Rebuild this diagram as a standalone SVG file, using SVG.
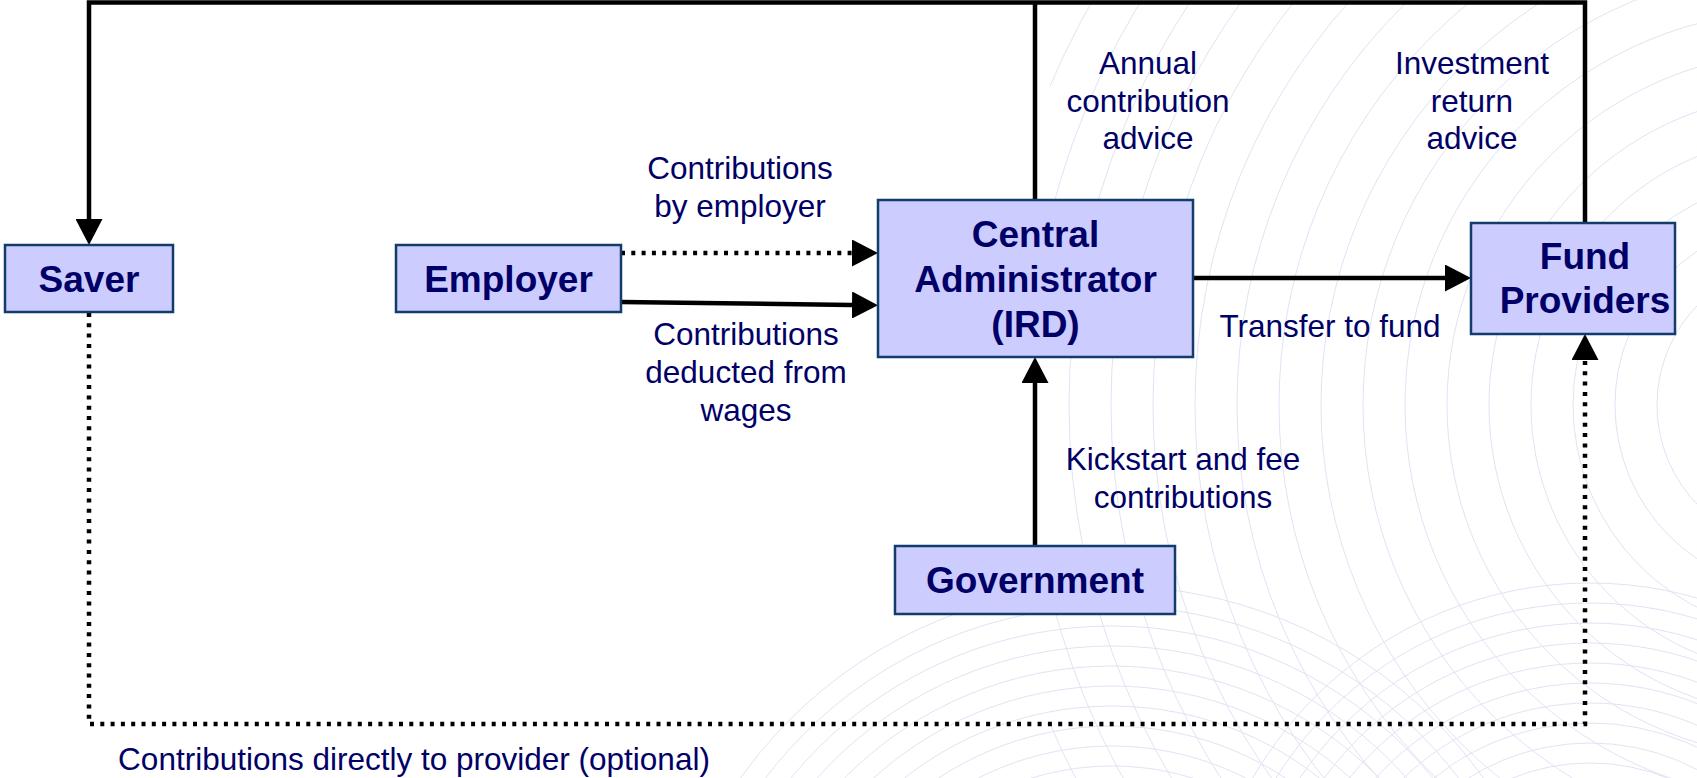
<svg xmlns="http://www.w3.org/2000/svg" width="1697" height="778" viewBox="0 0 1697 778">
<style>
.bg{fill:none;stroke:#e0e3f4;stroke-width:1}
.box{fill:#ccccff;stroke:#123c6b;stroke-width:2.5}
.nt{font-family:"Liberation Sans",Arial,sans-serif;font-weight:bold;font-size:37px;fill:#000066;text-anchor:middle}
.lb{font-family:"Liberation Sans",Arial,sans-serif;font-size:31.5px;fill:#000066;text-anchor:middle}
.ln{fill:none;stroke:#000;stroke-width:4.5}
.dt{fill:none;stroke:#000;stroke-width:4.5;stroke-dasharray:4 6.3}
</style>
<defs>
<marker id="ah" viewBox="0 0 26 27" refX="0" refY="13.5" markerWidth="26" markerHeight="27" markerUnits="userSpaceOnUse" orient="auto">
<path d="M0,0 L26,13.5 L0,27 Z" fill="#000"/>
</marker>
<clipPath id="clipA"><rect x="1050" y="0" width="647" height="778"/></clipPath>
</defs>
<rect x="0" y="0" width="1697" height="778" fill="#fff"/>
<g id="background">
<g clip-path="url(#clipA)">
<circle class="bg" cx="1800" cy="405" r="815"/>
<circle class="bg" cx="1800" cy="405" r="773"/>
<circle class="bg" cx="1800" cy="405" r="731"/>
<circle class="bg" cx="1800" cy="405" r="689"/>
<circle class="bg" cx="1800" cy="405" r="647"/>
<circle class="bg" cx="1800" cy="405" r="605"/>
<circle class="bg" cx="1800" cy="405" r="563"/>
<circle class="bg" cx="1800" cy="405" r="521"/>
<circle class="bg" cx="1800" cy="405" r="479"/>
<circle class="bg" cx="1800" cy="405" r="437"/>
<circle class="bg" cx="1800" cy="405" r="395"/>
<circle class="bg" cx="1800" cy="405" r="353"/>
<circle class="bg" cx="1800" cy="405" r="311"/>
<circle class="bg" cx="1800" cy="405" r="269"/>
<circle class="bg" cx="1800" cy="405" r="227"/>
<circle class="bg" cx="1800" cy="405" r="185"/>
<circle class="bg" cx="1800" cy="405" r="143"/>
</g>
<circle class="bg" cx="1112" cy="1041" r="455"/>
<circle class="bg" cx="1112" cy="1041" r="435"/>
<circle class="bg" cx="1112" cy="1041" r="415"/>
<circle class="bg" cx="1112" cy="1041" r="395"/>
<circle class="bg" cx="1112" cy="1041" r="375"/>
<circle class="bg" cx="1112" cy="1041" r="355"/>
<circle class="bg" cx="1112" cy="1041" r="335"/>
<circle class="bg" cx="1112" cy="1041" r="315"/>
<circle class="bg" cx="1112" cy="1041" r="295"/>
<circle class="bg" cx="1112" cy="1041" r="275"/>
<circle class="bg" cx="1590" cy="972" r="389"/>
<circle class="bg" cx="1590" cy="972" r="369"/>
<circle class="bg" cx="1590" cy="972" r="349"/>
<circle class="bg" cx="1590" cy="972" r="329"/>
<circle class="bg" cx="1590" cy="972" r="309"/>
<circle class="bg" cx="1590" cy="972" r="289"/>
<circle class="bg" cx="1590" cy="972" r="269"/>
<circle class="bg" cx="1590" cy="972" r="249"/>
<circle class="bg" cx="1590" cy="972" r="229"/>
<circle class="bg" cx="1590" cy="972" r="209"/>
</g>
<g id="connectors">
<path class="ln" d="M1585,223 V2.5 H89 V219" marker-end="url(#ah)"/>
<path class="ln" d="M1035,200 V2.5"/>
<path class="dt" d="M621,253 H852" marker-end="url(#ah)"/>
<path class="ln" d="M621,302 L852,305" marker-end="url(#ah)"/>
<path class="ln" d="M1193,278 H1445" marker-end="url(#ah)"/>
<path class="ln" d="M1035,546 V383" marker-end="url(#ah)"/>
<path class="dt" d="M89,313 V724 H1585 V360" marker-end="url(#ah)"/>
</g>
<g id="labels">
<text class="lb" x="740" y="179">Contributions</text>
<text class="lb" x="740" y="216.5">by employer</text>
<text class="lb" x="746" y="345">Contributions</text>
<text class="lb" x="746" y="383">deducted from</text>
<text class="lb" x="746" y="421">wages</text>
<text class="lb" x="1148" y="74">Annual</text>
<text class="lb" x="1148" y="111.5">contribution</text>
<text class="lb" x="1148" y="149">advice</text>
<text class="lb" x="1472" y="74">Investment</text>
<text class="lb" x="1472" y="111.5">return</text>
<text class="lb" x="1472" y="149">advice</text>
<text class="lb" x="1330" y="337">Transfer to fund</text>
<text class="lb" x="1183" y="470">Kickstart and fee</text>
<text class="lb" x="1183" y="508">contributions</text>
<text class="lb" x="414" y="770">Contributions directly to provider (optional)</text>
</g>
<g id="saver">
<rect class="box" x="5" y="245" width="168" height="67"/>
<text class="nt" x="89" y="292">Saver</text>
</g>
<g id="employer">
<rect class="box" x="396" y="245" width="225" height="67"/>
<text class="nt" x="508.5" y="292">Employer</text>
</g>
<g id="central-administrator">
<rect class="box" x="878" y="200" width="315" height="157"/>
<text class="nt" x="1035.5" y="246.7">Central</text>
<text class="nt" x="1035.5" y="291.7">Administrator</text>
<text class="nt" x="1035.5" y="336.7">(IRD)</text>
</g>
<g id="fund-providers">
<rect class="box" x="1471" y="223" width="204" height="111"/>
<text class="nt" x="1585" y="269.3">Fund</text>
<text class="nt" x="1585" y="313">Providers</text>
</g>
<g id="government">
<rect class="box" x="895" y="546" width="280" height="68"/>
<text class="nt" x="1035" y="593">Government</text>
</g>
</svg>
